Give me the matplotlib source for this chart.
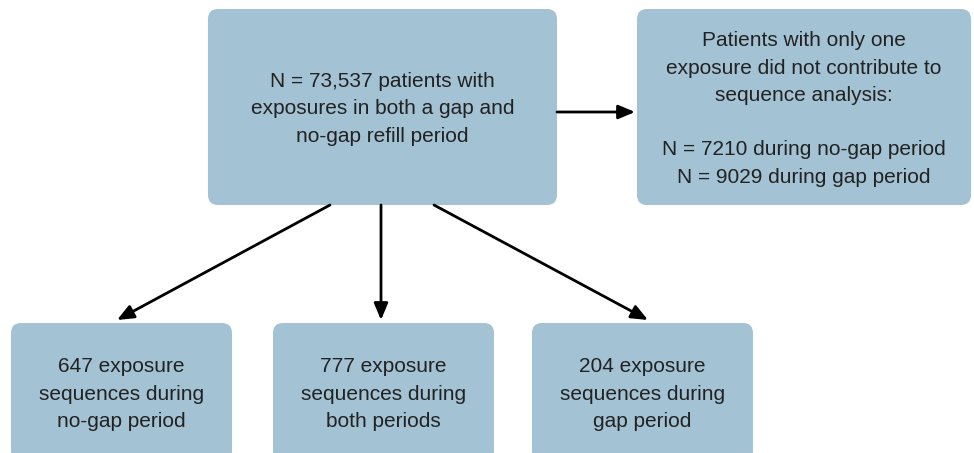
import matplotlib.pyplot as plt
from matplotlib.patches import FancyBboxPatch

# textos de las cajas
top_text = "N = 73,537 patients with\nexposures in both a gap and\nno-gap refill period"
side_text = ("Patients with only one\nexposure did not contribute to\nsequence analysis:\n\n"
             "N = 7210 during no-gap period\nN = 9029 during gap period")
bottom_counts = [647, 777, 204]
bottom_periods = ["no-gap period", "both periods", "gap period"]

fill = "#a3c3d4"
txt_color = "#222222"

fig = plt.figure(figsize=(9.74, 4.53), dpi=100)
ax = fig.add_axes([0, 0, 1, 1])
ax.set_xlim(0, 974)
ax.set_ylim(453, 0)
ax.axis("off")

def caja(x0, y0, x1, y1, texto):
    p = FancyBboxPatch((x0, y0), x1 - x0, y1 - y0,
                       boxstyle="round,pad=0,rounding_size=10",
                       fc=fill, ec="none", zorder=1)
    ax.add_patch(p)
    ax.text((x0 + x1) / 2, (y0 + y1) / 2 + 2, texto, ha="center", va="center",
            fontsize=15, color=txt_color, family="Liberation Sans",
            linespacing=1.55, zorder=3)

def flecha(x0, y0, x1, y1):
    ax.annotate("", xy=(x1, y1), xytext=(x0, y0),
                arrowprops=dict(arrowstyle="-|>,head_length=1.0,head_width=0.42",
                                color="black", lw=2, shrinkA=0, shrinkB=0),
                zorder=2)

# caja principal y caja lateral
caja(208, 9, 557, 205, top_text)
caja(637, 9, 971, 205, side_text)

# cajas de abajo
bottom_x = [(11, 232), (273, 494), (532, 753)]
for (x0, x1), n, per in zip(bottom_x, bottom_counts, bottom_periods):
    caja(x0, 323, x1, 461, f"{n} exposure\nsequences during\n{per}")

flecha(557, 112, 635, 112)
flecha(330, 205, 117, 320)
flecha(381, 205, 381, 320)
flecha(434, 205, 648, 320)

fig.savefig("out.png", dpi=100)
